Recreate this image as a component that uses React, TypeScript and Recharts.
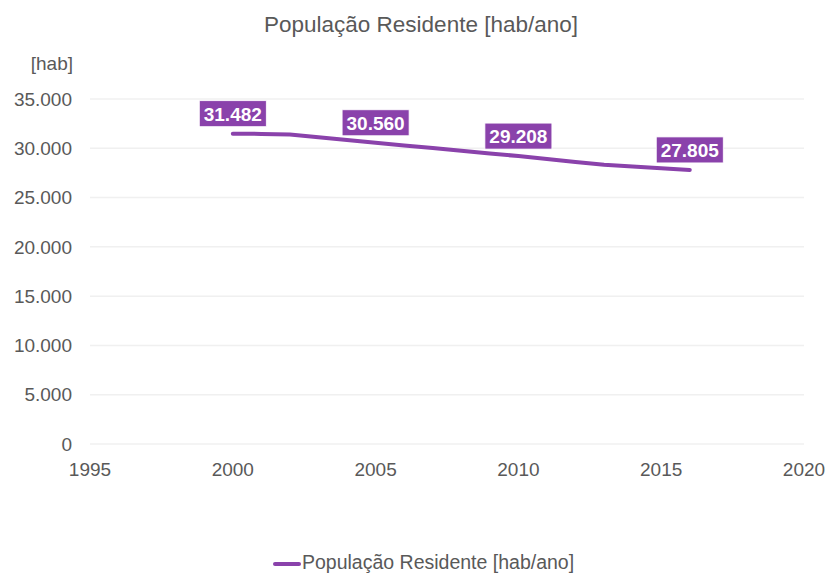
import React from "react";
import { LineChart, Line, XAxis, YAxis, CartesianGrid, LabelList } from "recharts";

const years = [2000, 2001, 2002, 2003, 2004, 2005, 2006, 2007, 2008, 2009, 2010, 2011, 2012, 2013, 2014, 2015, 2016];
const population = [31482, 31460, 31400, 31120, 30840, 30560, 30290, 30020, 29750, 29480, 29208, 28920, 28620, 28330, 28150, 27980, 27805];
const labeledYears = [2000, 2005, 2010, 2016];
const xTicks = [1995, 2000, 2005, 2010, 2015, 2020];
const yTicks = [0, 5000, 10000, 15000, 20000, 25000, 30000, 35000];
const title = "População Residente [hab/ano]";
const yUnit = "[hab]";
const seriesName = "População Residente [hab/ano]";

const data = years.map((y, i) => ({
  year: y,
  value: population[i],
  label: labeledYears.includes(y) ? population[i] : null,
}));

const fmt = (v: number) => String(Math.round(v)).replace(/\B(?=(\d{3})+(?!\d))/g, ".");

const PURPLE = "#8A42AB";
const TEXT = "#595959";
const FONT = "'Liberation Sans', Arial, sans-serif";

const DataLabel = (props: any) => {
  const { x, y, value } = props;
  if (value === null || value === undefined) return null;
  const w = 67;
  const h = 26;
  const cy = y - 20;
  return (
    <g>
      <rect x={x - w / 2} y={cy - h / 2} width={w} height={h} fill={PURPLE} stroke="#ffffff" strokeWidth={0.8} />
      <text
        x={x}
        y={cy + 7}
        textAnchor="middle"
        fill="#ffffff"
        fontWeight="bold"
        fontSize={19}
        fontFamily={FONT}
      >
        {fmt(value)}
      </text>
    </g>
  );
};

export default function App() {
  return (
    <div style={{ position: "absolute", left: 0, top: 0, width: 830, height: 574, background: "#fff", fontFamily: FONT }}>
      <div style={{ position: "absolute", left: 0, top: 14, width: 842, textAlign: "center", fontSize: 22.5, lineHeight: "22.5px", color: TEXT }}>
        {title}
      </div>
      <div style={{ position: "absolute", left: 0, top: 54, width: 73, textAlign: "right", fontSize: 19, lineHeight: "19px", color: TEXT }}>
        {yUnit}
      </div>
      <LineChart width={830} height={574} data={data} margin={{ top: 99, right: 26, left: 0, bottom: 0 }}>
        <CartesianGrid vertical={false} stroke="#F0F0F0" strokeWidth={1.5} />
        <XAxis
          dataKey="year"
          type="number"
          domain={[1995, 2020]}
          ticks={xTicks}
          axisLine={false}
          tickLine={false}
          tickSize={0}
          tickMargin={19}
          height={130}
          interval={0}
          tick={{ fill: TEXT, fontSize: 19, fontFamily: FONT }}
        />
        <YAxis
          type="number"
          domain={[0, 35000]}
          ticks={yTicks}
          axisLine={false}
          tickLine={false}
          tickSize={0}
          tickMargin={18}
          width={90}
          interval={0}
          tickFormatter={fmt}
          tick={{ fill: TEXT, fontSize: 19, fontFamily: FONT }}
        />
        <Line
          type="linear"
          dataKey="value"
          name={seriesName}
          stroke={PURPLE}
          strokeWidth={4}
          strokeLinecap="round"
          dot={false}
          activeDot={false}
          isAnimationActive={false}
        >
          <LabelList dataKey="label" content={DataLabel} />
        </Line>
      </LineChart>
      <div style={{ position: "absolute", left: 0, top: 553, width: 830, height: 22 }}>
        <div style={{ position: "absolute", left: 273, top: 9, width: 28, height: 4, background: PURPLE, borderRadius: 2 }} />
        <div style={{ position: "absolute", left: 302, top: 0, fontSize: 19.5, lineHeight: "19.5px", color: TEXT, whiteSpace: "nowrap" }}>
          {seriesName}
        </div>
      </div>
    </div>
  );
}
